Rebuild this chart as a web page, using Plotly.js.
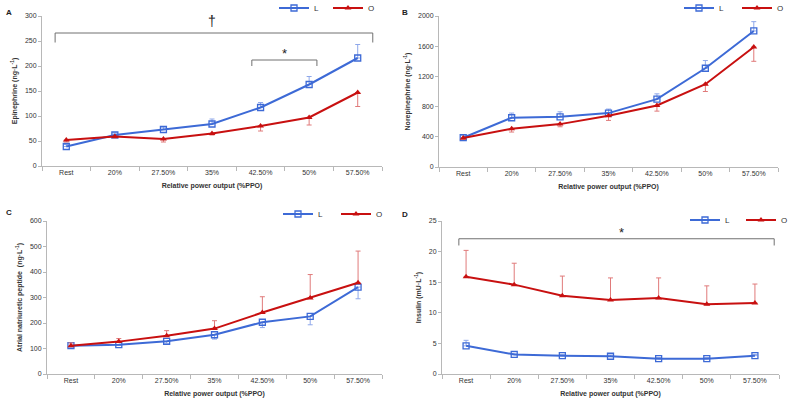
<!DOCTYPE html>
<html>
<head>
<meta charset="utf-8">
<script src="https://cdn.plot.ly/plotly-3.0.1.min.js"></script>
<style>
  html, body { margin: 0; padding: 0; background: #fff; }
  #chart { width: 792px; height: 404px; }
</style>
</head>
<body>
<div id="chart"></div>
<script>
// categories shared by all four panels
const stages = ['Rest', '20%', '27.50%', '35%', '42.50%', '50%', '57.50%'];

// A - epinephrine
const epiL = [39, 62, 73, 84, 117, 163, 216];
const epiLErr = [4, 4, 5, 10, 10, 16, 27];
const epiO = [52, 59, 54, 65, 80, 97, 147];
const epiOErr = [4, 3, 6, 3, 10, 15, 28];

// B - norepinephrine
const noreL = [388, 652, 665, 714, 899, 1308, 1802];
const noreLErr = [30, 62, 66, 53, 70, 102, 123];
const noreO = [383, 507, 568, 678, 815, 1097, 1590];
const noreOErr = [17, 44, 35, 61, 75, 97, 190];

// C - atrial natriuretic peptide
const anpL = [111, 115, 128, 154, 203, 226, 341];
const anpLErr = [6, 3, 8, 17, 21, 33, 46];
const anpO = [111, 127, 150, 178, 241, 298, 358];
const anpOErr = [11, 12, 20, 31, 62, 92, 124];

// D - insulin
const insL = [4.6, 3.2, 3.0, 2.9, 2.5, 2.5, 3.0];
const insLErr = [0.9, 0.2, 0.2, 0.2, 0.2, 0.2, 0.2];
const insO = [15.9, 14.6, 12.8, 12.1, 12.4, 11.4, 11.6];
const insOErr = [4.3, 3.5, 3.2, 3.6, 3.3, 3.0, 3.1];

const blue = '#3d6ad6', red = '#c81010';
const blueErr = '#8fa8ea', redErr = '#e07a7a';

const W = 792, H = 404;
const px = (a, b) => [a / W, b / W];
const py = (top, bottom) => [1 - bottom / H, 1 - top / H];

// one legend per trace so each entry can sit where the original has it
function pair(n, yL, eL, dirL, yO, eO, dirO) {
  const ax = n === 1 ? '' : n;
  const zeros = stages.map(() => 0);
  const mk = (name, leg, y, e, dir, col, ecol, marker) => ({
    x: stages, y: y, name: name, type: 'scatter', mode: 'lines+markers',
    xaxis: 'x' + ax, yaxis: 'y' + ax, legend: leg, showlegend: true,
    line: { color: col, width: 2 },
    marker: marker,
    error_y: {
      type: 'data', symmetric: false,
      array: dir === 'up' ? e : zeros,
      arrayminus: dir === 'down' ? e : zeros,
      color: ecol, thickness: 1, width: 2.5
    }
  });
  const l1 = n === 1 ? 'legend' : 'legend' + (2 * n - 1);
  const l2 = 'legend' + (2 * n);
  return [
    mk('L', l1, yL, eL, dirL, blue, blueErr,
      { symbol: 'square-open', size: 6, color: blue, line: { width: 1.3, color: blue } }),
    mk('O', l2, yO, eO, dirO, red, redErr,
      { symbol: 'triangle-up', size: 6, color: red })
  ];
}

const traces = [].concat(
  pair(1, epiL, epiLErr, 'up', epiO, epiOErr, 'down'),
  pair(2, noreL, noreLErr, 'up', noreO, noreOErr, 'down'),
  pair(3, anpL, anpLErr, 'down', anpO, anpOErr, 'up'),
  pair(4, insL, insLErr, 'up', insO, insOErr, 'up')
);

const font = { family: 'Liberation Sans, Arial, sans-serif', size: 7, color: '#333' };
const axisCol = '#b8b8b8';

function xax(dom, anchor) {
  return {
    domain: dom, anchor: anchor, type: 'category', range: [-0.5, 6.5],
    showline: true, linecolor: axisCol, linewidth: 1,
    ticks: 'outside', tickson: 'boundaries', ticklen: 4, tickcolor: axisCol,
    showgrid: false, zeroline: false, fixedrange: true,
    tickfont: font,
    title: { text: '<b>Relative power output (%PPO)</b>', font: font, standoff: 7 }
  };
}
function yax(dom, anchor, range, dtick, title) {
  return {
    domain: dom, anchor: anchor, range: range, dtick: dtick,
    showline: true, linecolor: axisCol, linewidth: 1,
    ticks: 'outside', ticklen: 3, tickcolor: axisCol,
    showgrid: false, zeroline: false, fixedrange: true,
    tickfont: font,
    title: { text: '<b>' + title + '</b>', font: font, standoff: 6 }
  };
}
function leg(x, y) {
  return {
    orientation: 'h', x: x / W, y: 1 - y / H, xanchor: 'left', yanchor: 'middle',
    font: { family: font.family, size: 8, color: '#333' },
    bgcolor: 'rgba(0,0,0,0)', borderwidth: 0
  };
}

// bracket: horizontal bar with dropped ends, on the category axis positions
function bracket(ax, x0, x1, yBar, yEnd) {
  return {
    type: 'path', xref: 'x' + ax, yref: 'y' + ax,
    line: { color: '#707070', width: 1 },
    path: `M${x0},${yEnd} L${x0},${yBar} L${x1},${yBar} L${x1},${yEnd}`
  };
}

const letter = (t, x, y) => ({
  text: '<b>' + t + '</b>', x: x / W, y: 1 - y / H, xref: 'paper', yref: 'paper',
  showarrow: false, xanchor: 'left', font: { family: font.family, size: 8, color: '#222' }
});

const layout = {
  width: W, height: H,
  margin: { l: 0, r: 0, t: 0, b: 0, autoexpand: false },
  paper_bgcolor: '#fff', plot_bgcolor: '#fff',
  font: font,
  showlegend: true,
  xaxis: xax(px(42, 382), 'y'),
  yaxis: yax(py(16, 166), 'x', [0, 300], 50, 'Epinephrine (ng·L<sup>-1</sup>)'),
  xaxis2: xax(px(439, 778), 'y2'),
  yaxis2: yax(py(16, 167), 'x2', [0, 2000], 400, 'Norepinephrine (ng·L<sup>-1</sup>)'),
  xaxis3: xax(px(47, 382), 'y3'),
  yaxis3: yax(py(221, 374), 'x3', [0, 600], 100, 'Atrial natriuretic peptide  (ng·L<sup>-1</sup>)'),
  xaxis4: xax(px(442, 779), 'y4'),
  yaxis4: yax(py(221, 374), 'x4', [0, 25], 5, 'Insulin (mU·L<sup>-1</sup>)'),
  legend: leg(274, 8),
  legend2: leg(328, 8),
  legend3: leg(679, 8),
  legend4: leg(737, 8),
  legend5: leg(278, 214),
  legend6: leg(336, 214),
  legend7: leg(685, 220),
  legend8: leg(741, 220),
  shapes: [
    bracket('', -0.23, 6.31, 266, 247),
    bracket('', 3.82, 5.16, 212, 200),
    bracket('4', -0.15, 6.4, 22.1, 21.0)
  ],
  annotations: [
    letter('A', 4, 6), letter('B', 400, 6), letter('C', 4, 212), letter('D', 400, 214),
    { text: '†', x: 3, y: 291, xref: 'x', yref: 'y', showarrow: false, font: { family: font.family, size: 14, color: '#222' } },
    { text: '*', x: 4.5, y: 226, xref: 'x', yref: 'y', showarrow: false, font: { family: font.family, size: 13, color: '#222' } },
    { text: '*', x: 3.22, y: 23.2, xref: 'x4', yref: 'y4', showarrow: false, font: { family: font.family, size: 13, color: '#222' } }
  ]
};

Plotly.newPlot('chart', traces, layout, { displayModeBar: false, staticPlot: true });
</script>
</body>
</html>
